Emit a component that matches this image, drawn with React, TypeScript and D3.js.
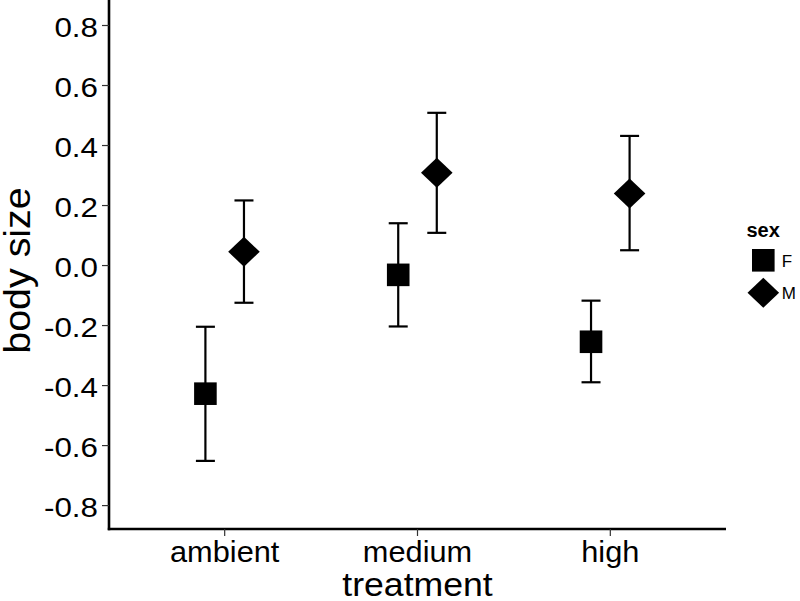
import React from "react";
import * as d3 from "d3";

const treatments = ["ambient", "medium", "high"];
const sexes = ["F", "M"];
const meanF = [-0.427, -0.031, -0.254];
const lowerF = [-0.651, -0.203, -0.389];
const upperF = [-0.204, 0.141, -0.117];
const meanM = [0.046, 0.309, 0.24];
const lowerM = [-0.124, 0.109, 0.051];
const upperM = [0.217, 0.509, 0.432];
const yTicks = [-0.8, -0.6, -0.4, -0.2, 0.0, 0.2, 0.4, 0.6, 0.8];

const W = 800;
const H = 601;
const left = 109;
const right = 726;
const top = 0;
const bottom = 529;
const FONT = "'Liberation Sans', Arial, Helvetica, sans-serif";

type Row = { t: string; sex: string; mean: number; lo: number; hi: number };

const rows: Row[] = [];
treatments.forEach((t, i) => {
  rows.push({ t, sex: "F", mean: meanF[i], lo: lowerF[i], hi: upperF[i] });
  rows.push({ t, sex: "M", mean: meanM[i], lo: lowerM[i], hi: upperM[i] });
});

function Shape({ sex, cx, cy }: { sex: string; cx: number; cy: number }) {
  if (sex === "F") {
    const s = 22.6;
    return <rect x={cx - s / 2} y={cy - s / 2} width={s} height={s} fill="#000" />;
  }
  const r = 15.8;
  const rv = 15;
  return (
    <path
      d={`M${cx},${cy - rv}L${cx + r},${cy}L${cx},${cy + rv}L${cx - r},${cy}Z`}
      fill="#000"
    />
  );
}

export default function App() {
  const x = d3.scalePoint<string>().domain(treatments).range([left, right]).padding(0.6);
  const dodge = d3
    .scalePoint<string>()
    .domain(sexes)
    .range([-x.step() * 0.1, x.step() * 0.1]);
  const y = d3.scaleLinear().domain([-0.878, 0.885]).range([bottom, top]);
  const capHalf = 9.5;

  return (
    <svg
      width={W}
      height={H}
      style={{ position: "absolute", left: 0, top: 0, background: "#fff" }}
      fontFamily={FONT}
    >
      <rect x={0} y={0} width={W} height={H} fill="#fff" />
      {/* error bars */}
      {rows.map((r, i) => {
        const cx = (x(r.t) as number) + (dodge(r.sex) as number);
        return (
          <g key={"e" + i} stroke="#000" strokeWidth={2.2}>
            <line x1={cx} x2={cx} y1={y(r.lo)} y2={y(r.hi)} />
            <line x1={cx - capHalf} x2={cx + capHalf} y1={y(r.lo)} y2={y(r.lo)} />
            <line x1={cx - capHalf} x2={cx + capHalf} y1={y(r.hi)} y2={y(r.hi)} />
          </g>
        );
      })}
      {/* points */}
      {rows.map((r, i) => {
        const cx = (x(r.t) as number) + (dodge(r.sex) as number);
        return <Shape key={"p" + i} sex={r.sex} cx={cx} cy={y(r.mean)} />;
      })}
      {/* axes */}
      <line x1={left} x2={left} y1={top} y2={bottom + 1.2} stroke="#000" strokeWidth={2.6} />
      <line x1={left - 1.2} x2={right} y1={bottom} y2={bottom} stroke="#000" strokeWidth={2.6} />
      {yTicks.map((v) => (
        <g key={"yt" + v}>
          <line x1={left - 7} x2={left} y1={y(v)} y2={y(v)} stroke="#333" strokeWidth={1.2} />
          <text
            transform={`translate(98,${y(v) + 11.5}) scale(1.12,1)`}
            textAnchor="end"
            fontSize={28}
            fill="#000"
          >
            {d3.format(".1f")(v).replace("−", "-")}
          </text>
        </g>
      ))}
      {treatments.map((t) => (
        <g key={"xt" + t}>
          <line
            x1={x(t) as number}
            x2={x(t) as number}
            y1={bottom}
            y2={bottom + 7}
            stroke="#333"
            strokeWidth={1.2}
          />
          <text
            transform={`translate(${x(t)},562) scale(1.06,1)`}
            textAnchor="middle"
            fontSize={29}
            fill="#000"
          >
            {t}
          </text>
        </g>
      ))}
      <text
        transform={`translate(${(left + right) / 2},596) scale(1.08,1)`}
        textAnchor="middle"
        fontSize={33}
        fill="#000"
      >
        treatment
      </text>
      <text
        transform={`translate(30,${(top + bottom) / 2 + 6}) rotate(-90) scale(1.08,1)`}
        textAnchor="middle"
        fontSize={36.5}
        fill="#000"
      >
        body size
      </text>
      {/* legend */}
      <text x={746.5} y={237} fontSize={20} fontWeight="bold" fill="#000">
        sex
      </text>
      {sexes.map((s, i) => {
        const cy = 260.3 + i * 32.4;
        return (
          <g key={"lg" + s}>
            <Shape sex={s} cx={763.3} cy={cy} />
            <text x={781.7} y={cy + 6.2} fontSize={17} fill="#000">
              {s}
            </text>
          </g>
        );
      })}
    </svg>
  );
}
